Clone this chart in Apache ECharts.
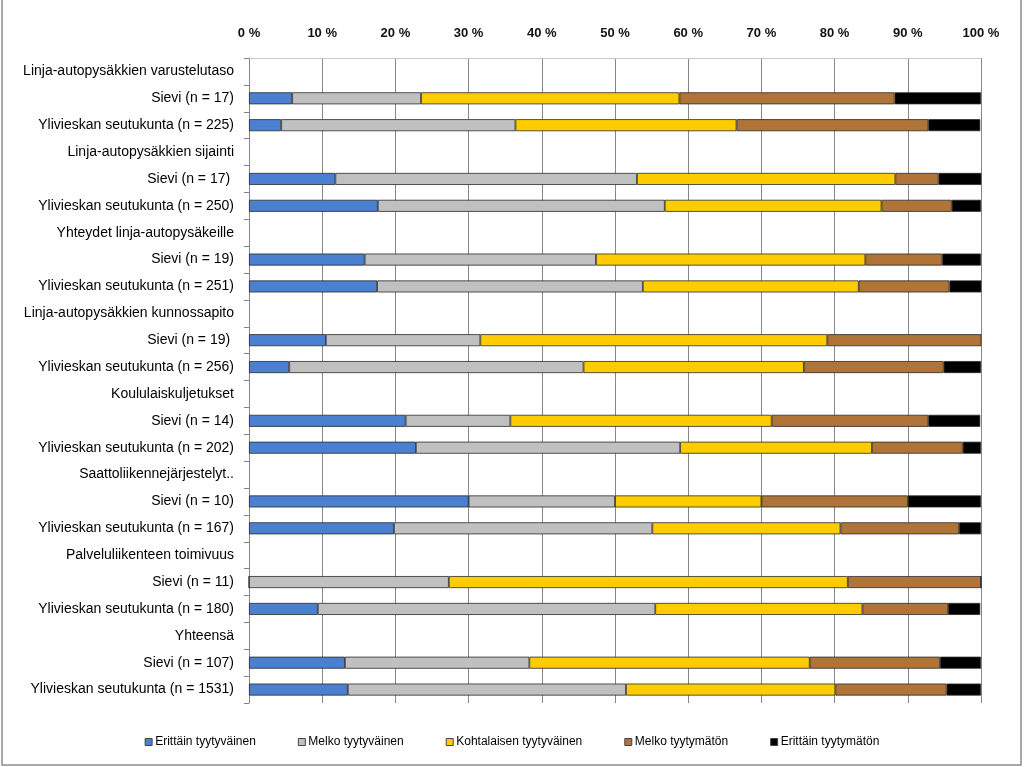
<!DOCTYPE html>
<html>
<head>
<meta charset="utf-8">
<script src="https://cdn.jsdelivr.net/npm/echarts@6/dist/echarts.min.js"></script>
<style>
html,body{margin:0;padding:0;background:#fff;}
#chart{width:1024px;height:767px;}
</style>
</head>
<body>
<div id="chart"></div>
<script>
var categories = [
  'Linja-autopysäkkien varustelutaso', 'Sievi (n = 17)', 'Ylivieskan seutukunta (n = 225)',
  'Linja-autopysäkkien sijainti', 'Sievi (n = 17) ', 'Ylivieskan seutukunta (n = 250)',
  'Yhteydet linja-autopysäkeille', 'Sievi (n = 19)', 'Ylivieskan seutukunta (n = 251)',
  'Linja-autopysäkkien kunnossapito', 'Sievi (n = 19) ', 'Ylivieskan seutukunta (n = 256)',
  'Koululaiskuljetukset', 'Sievi (n = 14)', 'Ylivieskan seutukunta (n = 202)',
  'Saattoliikennejärjestelyt..', 'Sievi (n = 10)', 'Ylivieskan seutukunta (n = 167)',
  'Palveluliikenteen toimivuus', 'Sievi (n = 11)', 'Ylivieskan seutukunta (n = 180)',
  'Yhteensä', 'Sievi (n = 107)', 'Ylivieskan seutukunta (n = 1531)'
];
var seriesNames = ['Erittäin tyytyväinen', 'Melko tyytyväinen', 'Kohtalaisen tyytyväinen', 'Melko tyytymätön', 'Erittäin tyytymätön'];
var erittainTyytyvainen = [null, 5.9, 4.4, null, 11.8, 17.6, null, 15.8, 17.5, null, 10.5, 5.5, null, 21.4, 22.8, null, 30.0, 19.8, null, 0, 9.4, null, 13.1, 13.5];
var melkoTyytyvainen   = [null, 17.6, 32.0, null, 41.2, 39.2, null, 31.6, 36.3, null, 21.1, 40.2, null, 14.3, 36.1, null, 20.0, 35.3, null, 27.3, 46.1, null, 25.2, 38.0];
var kohtalainen        = [null, 35.3, 30.2, null, 35.3, 29.6, null, 36.8, 29.5, null, 47.4, 30.1, null, 35.7, 26.2, null, 20.0, 25.7, null, 54.5, 28.3, null, 38.3, 28.6];
var melkoTyytymaton    = [null, 29.4, 26.2, null, 5.9, 9.6, null, 10.5, 12.4, null, 21.1, 19.1, null, 21.4, 12.4, null, 20.0, 16.2, null, 18.2, 11.7, null, 17.8, 15.2];
var erittainTyytymaton = [null, 11.8, 7.1, null, 5.9, 4.0, null, 5.3, 4.4, null, 0, 5.1, null, 7.1, 2.5, null, 10.0, 3.0, null, 0, 4.4, null, 5.6, 4.7];
var xTicks = [0, 10, 20, 30, 40, 50, 60, 70, 80, 90, 100];

var colors = ['#4A80CF', '#C0C0C0', '#FFCC00', '#B07438', '#000000'];
var values = [erittainTyytyvainen, melkoTyytyvainen, kohtalainen, melkoTyytymaton, erittainTyytymaton];

var chart = echarts.init(document.getElementById('chart'), null, {renderer: 'canvas'});
var series = seriesNames.map(function (name, i) {
  return {
    name: name,
    type: 'bar',
    stack: 'total',
    barWidth: 12,
    data: values[i],
    itemStyle: {color: colors[i], borderColor: '#2b2b2b', borderWidth: 0.8},
    emphasis: {disabled: true}
  };
});

chart.setOption({
  animation: false,
  backgroundColor: '#fff',
  textStyle: {fontFamily: 'Liberation Sans'},
  graphic: [{
    type: 'rect',
    shape: {x: 2, y: -5, width: 1019, height: 770},
    style: {fill: 'none', stroke: '#8c8c8c', lineWidth: 1.5},
    silent: true
  }],
  grid: {left: 249, right: 43, top: 58, bottom: 64, containLabel: false},
  legend: {
    bottom: 14,
    left: 'center',
    icon: 'rect',
    itemWidth: 7,
    itemHeight: 7,
    itemGap: 42,
    itemStyle: {borderColor: '#444', borderWidth: 1},
    textStyle: {fontSize: 12, color: '#000', fontFamily: 'Liberation Sans', padding: [0, 0, 0, -2]},
    data: seriesNames
  },
  xAxis: {
    type: 'value',
    position: 'top',
    min: xTicks[0],
    max: xTicks[xTicks.length - 1],
    interval: 10,
    axisLine: {show: true, lineStyle: {color: '#c8c8c8'}},
    axisTick: {show: false},
    splitLine: {show: true, lineStyle: {color: '#868686', width: 1}},
    axisLabel: {
      formatter: function (v) { return v + ' %'; },
      fontSize: 13,
      fontWeight: 'bold',
      color: '#111',
      margin: 18,
      fontFamily: 'Liberation Sans'
    }
  },
  yAxis: {
    type: 'category',
    inverse: true,
    data: categories,
    axisLine: {show: true, lineStyle: {color: '#868686'}},
    axisTick: {show: true, length: 5, lineStyle: {color: '#868686'}},
    axisLabel: {
      fontSize: 14,
      color: '#000',
      margin: 15,
      interval: 0,
      fontFamily: 'Liberation Sans'
    }
  },
  series: series
});
</script>
</body>
</html>
